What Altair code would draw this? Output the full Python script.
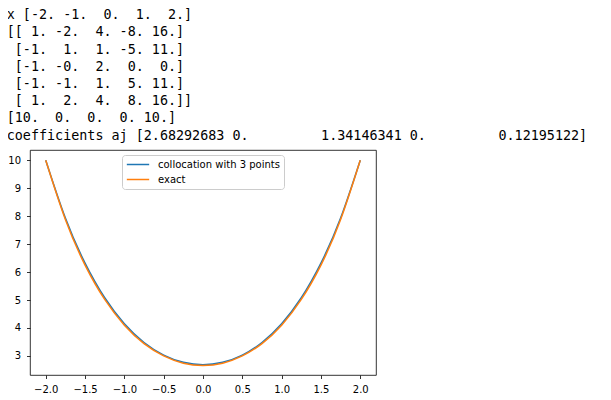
import altair as alt
import pandas as pd

NB = "\u00a0"
ZW = "\u200b"

# printed output above the plot
printed_lines = [
    "x [-2. -1.  0.  1.  2.]",
    "[[ 1. -2.  4. -8. 16.]",
    " [-1.  1.  1. -5. 11.]",
    " [-1. -0.  2.  0.  0.]",
    " [-1. -1.  1.  5. 11.]",
    " [ 1.  2.  4.  8. 16.]]",
    "[10.  0.  0.  0. 10.]",
    "coefficients aj [2.68292683 0.         1.34146341 0.         0.12195122]",
]

# curve samples
x_vals = [-2.0, -1.75, -1.5, -1.25, -1.0, -0.75, -0.5, -0.25, 0.0,
          0.25, 0.5, 0.75, 1.0, 1.25, 1.5, 1.75, 2.0]
colloc_vals = [10.00, 7.93, 6.32, 5.08, 4.15, 3.48, 3.03, 2.77, 2.68,
               2.77, 3.03, 3.48, 4.15, 5.08, 6.32, 7.93, 10.00]
exact_vals = [10.00, 7.88, 6.25, 5.02, 4.10, 3.44, 3.00, 2.74, 2.66,
              2.74, 3.00, 3.44, 4.10, 5.02, 6.25, 7.88, 10.00]
series_names = ["collocation with 3 points", "exact"]
series_colors = ["#1f77b4", "#ff7f0e"]
x_ticks = [-2.0, -1.5, -1.0, -0.5, 0.0, 0.5, 1.0, 1.5, 2.0]
y_ticks = [3, 4, 5, 6, 7, 8, 9, 10]

rows = []
for i, x in enumerate(x_vals):
    rows.append({"x": x, "y": colloc_vals[i], "series": series_names[0], "o": 0})
for i, x in enumerate(x_vals):
    rows.append({"x": x, "y": exact_vals[i], "series": series_names[1], "o": 1})
df = pd.DataFrame(rows)

title_text = [ZW + s.replace(" ", NB) for s in printed_lines]

chart = (
    alt.Chart(df)
    .mark_line(strokeWidth=1.5, interpolate="natural")
    .encode(
        x=alt.X("x:Q", scale=alt.Scale(domain=[-2.2, 2.2], nice=False, zero=False),
                axis=alt.Axis(values=x_ticks, format=".1f", title=None, grid=False,
                              domain=False, tickSize=3.5, tickColor="black", tickWidth=0.8,
                              labelPadding=6, labelFontSize=10, labelFont="DejaVu Sans",
                              labelColor="black", labelFlush=False)),
        y=alt.Y("y:Q", scale=alt.Scale(domain=[2.317, 10.366], nice=False, zero=False),
                axis=alt.Axis(values=y_ticks, format="d", title=None, grid=False,
                              domain=False, tickSize=3.5, tickColor="black", tickWidth=0.8,
                              labelPadding=6, labelFontSize=10, labelFont="DejaVu Sans",
                              labelColor="black")),
        color=alt.Color("series:N",
                        scale=alt.Scale(domain=series_names, range=series_colors),
                        legend=alt.Legend(title=None, orient="none", legendX=92, legendY=5,
                                          symbolType="stroke", symbolStrokeWidth=1.5,
                                          symbolSize=500, labelFontSize=10,
                                          labelFont="DejaVu Sans", labelColor="black",
                                          labelOffset=8, padding=4, rowPadding=4,
                                          clipHeight=11,
                                          strokeColor="#cccccc", fillColor="rgba(255,255,255,0.8)",
                                          cornerRadius=3)),
        order=alt.Order("o:Q"),
    )
    .properties(
        width=346,
        height=225,
        autosize=alt.AutoSizeParams(type="none"),
        padding={"left": 22, "top": 142, "right": 227, "bottom": 22},
        title=alt.Title(text=title_text, anchor="start", frame="group", dx=-23.3,
                        font="DejaVu Sans Mono", fontSize=13.4, fontWeight="normal",
                        color="black", lineHeight=17.2, offset=8),
    )
    .configure_view(stroke="black", strokeWidth=0.8)
)

chart.save("out.html", embed_options={"renderer": "svg", "actions": False})
